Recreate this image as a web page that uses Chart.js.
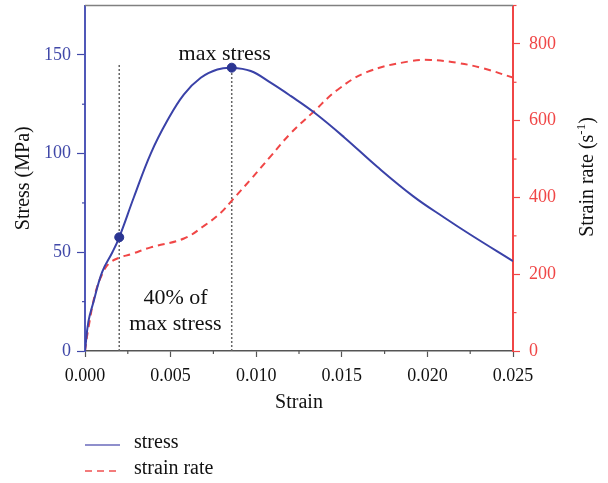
<!DOCTYPE html>
<html><head><meta charset="utf-8">
<script src="https://cdn.jsdelivr.net/npm/chart.js@4/dist/chart.umd.min.js"></script>
<style>html,body{margin:0;padding:0;background:#fff}#wrap{width:608px;height:483px}</style>
</head><body><div id="wrap"><canvas id="c" width="608" height="483"></canvas></div>
<script>
// ---- data ----
const stressStrain = [0, 0.0002, 0.0005, 0.001, 0.0016, 0.002, 0.00286, 0.00384, 0.00481, 0.00578, 0.00676, 0.00773, 0.00857, 0.00968, 0.01084, 0.01201, 0.01337, 0.01513, 0.01707, 0.0192, 0.021, 0.0225, 0.025];
const stressValues = [0, 15, 25, 40, 50, 57.6, 78, 100, 116.7, 130, 138.4, 142.6, 143.5, 141.8, 135.9, 129.2, 120.9, 108.3, 93.3, 78.2, 67.5, 59, 45.5];
const rateStrain = [0, 0.0002, 0.0006, 0.001, 0.0014, 0.002, 0.00267, 0.00384, 0.00578, 0.00695, 0.00793, 0.0086, 0.00968, 0.01084, 0.01201, 0.01337, 0.01474, 0.01649, 0.019, 0.0202, 0.0217, 0.0233, 0.025];
const rateValues = [0, 60, 150, 200, 228, 243, 252, 270, 293, 326, 360, 393, 447, 507, 567, 624, 680, 727, 755, 758, 751, 736, 712];
const xTicks = [0, 0.005, 0.01, 0.015, 0.02, 0.025];
const xMinorTicks = [0.0025, 0.0075, 0.0125, 0.0175, 0.0225];
const stressTicks = [0, 50, 100, 150];
const stressMinorTicks = [25, 75, 125];
const rateTicks = [0, 200, 400, 600, 800];
const rateMinorTicks = [100, 300, 500, 700, 900];
const markerStrain = [0.002, 0.00857];
const markerStress = [57.6, 143.5];
const guideTop = 145;
const seriesNames = ['stress', 'strain rate'];

const SERIF = '"Liberation Serif", "DejaVu Serif", serif';
const BLUE = '#3a42a8';
const BLUE_TICK = '#4048a8';
const RED = '#f04646';
const GREY = '#666';

const extrasPlugin = {
  id: 'extras',
  afterDraw(chart) {
    const ctx = chart.ctx;
    const {x, y, y2} = chart.scales;
    const ca = chart.chartArea;
    ctx.save();
    // top frame
    ctx.strokeStyle = '#808080'; ctx.lineWidth = 1.5;
    ctx.beginPath(); ctx.moveTo(ca.left, ca.top); ctx.lineTo(ca.right, ca.top); ctx.stroke();
    // minor ticks
    ctx.lineWidth = 1.2;
    ctx.strokeStyle = BLUE_TICK;
    stressMinorTicks.forEach(v => { const p = y.getPixelForValue(v); ctx.beginPath(); ctx.moveTo(ca.left, p); ctx.lineTo(ca.left - 3, p); ctx.stroke(); });
    ctx.strokeStyle = RED;
    rateMinorTicks.forEach(v => { const p = y2.getPixelForValue(v); ctx.beginPath(); ctx.moveTo(ca.right, p); ctx.lineTo(ca.right + 3.5, p); ctx.stroke(); });
    ctx.strokeStyle = '#555';
    xMinorTicks.forEach(v => { const p = x.getPixelForValue(v); ctx.beginPath(); ctx.moveTo(p, ca.bottom); ctx.lineTo(p, ca.bottom + 3); ctx.stroke(); });

    // annotations
    ctx.fillStyle = '#111';
    ctx.font = '22px ' + SERIF;
    ctx.textAlign = 'center'; ctx.textBaseline = 'alphabetic';
    ctx.fillText('max stress', x.getPixelForValue(markerStrain[1]) - 7, y.getPixelForValue(markerStress[1]) - 8);
    const midX = x.getPixelForValue((markerStrain[0] + markerStrain[1]) / 2);
    ctx.fillText('40% of', midX, y.getPixelForValue(24));
    ctx.fillText('max stress', midX, y.getPixelForValue(10.5));

    // right axis title with superscript
    ctx.save();
    ctx.translate(588, 177);
    ctx.rotate(-Math.PI / 2);
    ctx.fillStyle = '#111';
    ctx.font = '20px ' + SERIF;
    const t1 = 'Strain rate (s', sup = '-1', t2 = ')';
    const w1 = ctx.measureText(t1).width;
    ctx.font = '13px ' + SERIF;
    const ws = ctx.measureText(sup).width;
    ctx.font = '20px ' + SERIF;
    const w2 = ctx.measureText(t2).width;
    let sx = -(w1 + ws + w2) / 2;
    ctx.textAlign = 'left'; ctx.textBaseline = 'middle';
    ctx.fillText(t1, sx, 0); sx += w1;
    ctx.font = '13px ' + SERIF; ctx.fillText(sup, sx, -6); sx += ws;
    ctx.font = '20px ' + SERIF; ctx.fillText(t2, sx, 0);
    ctx.restore();

    // legend
    const ds = chart.data.datasets;
    [ds[0], ds[1]].forEach((d, i) => {
      const ly = 445 + i * 26;
      ctx.save();
      ctx.strokeStyle = i === 0 ? '#6a6abb' : '#f05050';
      ctx.lineWidth = 1.6;
      ctx.setLineDash(d.borderDash || []);
      ctx.beginPath(); ctx.moveTo(85, ly); ctx.lineTo(120, ly); ctx.stroke();
      ctx.restore();
      ctx.fillStyle = '#111';
      ctx.font = '20px ' + SERIF;
      ctx.textAlign = 'left'; ctx.textBaseline = 'middle';
      ctx.fillText(d.label, 134, ly - 2);
    });
    ctx.restore();
  }
};

const pts = (xs, ys) => xs.map((v, i) => ({x: v, y: ys[i]}));
const noPadV = s => { s.paddingTop = 0; s.paddingBottom = 0; };

new Chart(document.getElementById('c'), {
  type: 'line',
  data: {
    datasets: [
      { label: seriesNames[0], data: pts(stressStrain, stressValues), yAxisID: 'y', borderColor: BLUE, borderWidth: 2, pointRadius: 0, tension: 0.4, order: 1 },
      { label: seriesNames[1], data: pts(rateStrain, rateValues), yAxisID: 'y2', borderColor: RED, borderWidth: 2, borderDash: [7, 5], pointRadius: 0, tension: 0.4, order: 1 },
      { label: 'guide1', data: [{x: markerStrain[0], y: 0}, {x: markerStrain[0], y: guideTop}], yAxisID: 'y', borderColor: GREY, borderWidth: 1.5, borderDash: [2, 2], pointRadius: 0, order: 2 },
      { label: 'guide2', data: [{x: markerStrain[1], y: 0}, {x: markerStrain[1], y: guideTop}], yAxisID: 'y', borderColor: GREY, borderWidth: 1.5, borderDash: [2, 2], pointRadius: 0, order: 2 },
      { label: 'markers', data: pts(markerStrain, markerStress), yAxisID: 'y', showLine: false, pointRadius: 4.5, pointBackgroundColor: '#2b3592', pointBorderColor: '#2b3592', order: 0 }
    ]
  },
  options: {
    responsive: false,
    animation: false,
    devicePixelRatio: 1,
    layout: { padding: { top: 3, left: 0, right: 0, bottom: 66 } },
    plugins: { legend: { display: false }, tooltip: { enabled: false } },
    scales: {
      x: {
        type: 'linear', min: 0, max: 0.025,
        afterBuildTicks: s => { s.ticks = xTicks.map(v => ({value: v})); },
        afterFit: s => { s.height = 66; s.paddingLeft = 0; s.paddingRight = 0; },
        ticks: { callback: v => v.toFixed(3), color: '#111', font: { family: SERIF, size: 18 }, padding: 8, maxRotation: 0 },
        grid: { drawOnChartArea: false, tickLength: 6, tickColor: '#555', tickWidth: 1.2 },
        border: { color: '#555', width: 1.5 },
        title: { display: true, text: 'Strain', color: '#111', font: { family: SERIF, size: 20 }, padding: { bottom: 2, top: 0 } }
      },
      y: {
        position: 'left', min: 0, max: 175,
        afterBuildTicks: s => { s.ticks = stressTicks.map(v => ({value: v})); },
        afterFit: s => { s.width = 85; noPadV(s); },
        ticks: { color: BLUE_TICK, font: { family: SERIF, size: 18 }, padding: 6 },
        grid: { drawOnChartArea: false, tickLength: 8, tickColor: BLUE_TICK, tickWidth: 1.2 },
        border: { color: '#5058b8', width: 2 },
        title: { display: true, text: 'Stress (MPa)', color: '#111', font: { family: SERIF, size: 20 }, padding: { top: 12, bottom: 0 } }
      },
      y2: {
        position: 'right', min: 0, max: 900,
        afterBuildTicks: s => { s.ticks = rateTicks.map(v => ({value: v})); },
        afterFit: s => { s.width = 95; noPadV(s); },
        ticks: { color: RED, font: { family: SERIF, size: 18 }, padding: 9 },
        grid: { drawOnChartArea: false, tickLength: 7, tickColor: RED, tickWidth: 1.2 },
        border: { color: RED, width: 2 }
      }
    }
  },
  plugins: [extrasPlugin]
});
</script>
</body></html>
